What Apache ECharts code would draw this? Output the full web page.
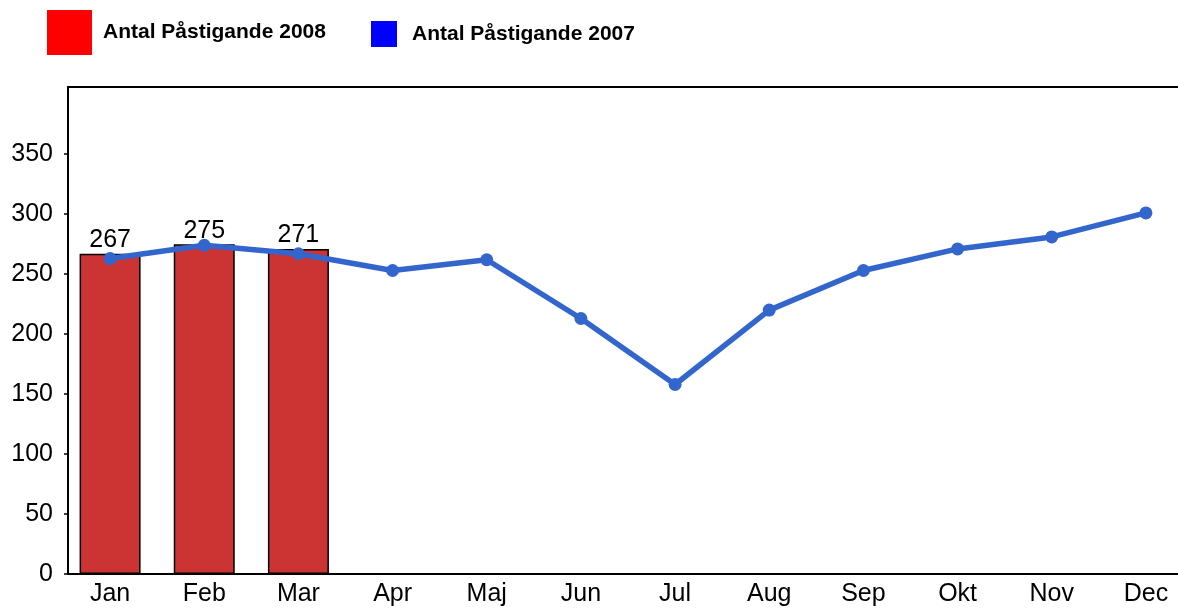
<!DOCTYPE html>
<html>
<head>
<meta charset="utf-8">
<script src="https://cdn.jsdelivr.net/npm/echarts@6/dist/echarts.min.js"></script>
<style>
  html, body { margin: 0; padding: 0; background: #fff; }
  #chart { width: 1178px; height: 609px; }
</style>
</head>
<body>
<div id="chart"></div>
<script>
const months = ['Jan', 'Feb', 'Mar', 'Apr', 'Maj', 'Jun', 'Jul', 'Aug', 'Sep', 'Okt', 'Nov', 'Dec'];
const passengers2008 = [267, 275, 271];
const passengers2007 = [263, 274, 267, 253, 262, 213, 158, 220, 253, 271, 281, 301];
const yTicks = [0, 50, 100, 150, 200, 250, 300, 350];
const yMax = 406;
const yStep = 50;

const FONT = '"Liberation Sans", Arial, sans-serif';

const chart = echarts.init(document.getElementById('chart'), null, { renderer: 'canvas' });

chart.setOption({
  animation: false,
  backgroundColor: '#fff',
  textStyle: { fontFamily: FONT },
  legend: [
    {
      left: 42, top: 5,
      itemWidth: 45, itemHeight: 45,
      icon: 'rect',
      selectedMode: false,
      textStyle: { fontFamily: FONT, fontSize: 21, fontWeight: 'bold', color: '#000', padding: [0, 0, 0, 6] },
      data: [{ name: 'Antal Påstigande 2008', itemStyle: { color: '#ff0000', borderWidth: 0 } }],
    },
    {
      left: 366, top: 16,
      itemWidth: 26, itemHeight: 26,
      icon: 'rect',
      selectedMode: false,
      textStyle: { fontFamily: FONT, fontSize: 21, fontWeight: 'bold', color: '#000', padding: [0, 0, 0, 10] },
      data: [{ name: 'Antal Påstigande 2007', itemStyle: { color: '#0000ff', borderWidth: 0 } }],
    },
  ],
  grid: [
    // data grid, bands run a little past the visible frame
    { left: 63, width: 1130, top: 87, bottom: 35, outerBoundsMode: 'none', containLabel: false },
    // frame grid
    { left: 68, right: 0, top: 87, bottom: 35, outerBoundsMode: 'none', containLabel: false },
  ],
  xAxis: [
    {
      gridIndex: 0,
      type: 'category',
      data: months,
      axisLine: { show: false },
      axisTick: { show: false },
      axisLabel: { fontFamily: FONT, fontSize: 25, color: '#000', margin: 8 },
      splitLine: { show: false },
    },
    {
      gridIndex: 1,
      type: 'category',
      data: months,
      position: 'bottom',
      axisLine: { lineStyle: { color: '#000', width: 2 } },
      axisTick: { show: false },
      axisLabel: { show: false },
    },
    {
      gridIndex: 1,
      type: 'category',
      data: months,
      position: 'top',
      axisLine: { lineStyle: { color: '#000', width: 2 } },
      axisTick: { show: false },
      axisLabel: { show: false },
    },
  ],
  yAxis: [
    {
      gridIndex: 0,
      type: 'value',
      min: 0, max: yMax, interval: yStep,
      show: false,
      splitLine: { show: false },
    },
    {
      gridIndex: 1,
      type: 'value',
      min: 0, max: yMax, interval: yStep,
      axisLine: { show: true, lineStyle: { color: '#000', width: 2 } },
      axisTick: { show: true, length: 4, customValues: yTicks, lineStyle: { color: '#000', width: 1.5 } },
      splitLine: { show: false },
      axisLabel: {
        fontFamily: FONT, fontSize: 25, color: '#000', margin: 15,
        customValues: yTicks,
      },
    },
  ],
  series: [
    {
      name: 'Antal Påstigande 2008',
      type: 'bar',
      xAxisIndex: 0, yAxisIndex: 0,
      data: passengers2008,
      barWidth: 61,
      itemStyle: { color: '#cc3333', borderColor: '#000', borderWidth: 1.5 },
      label: {
        show: true, position: 'top', distance: 1,
        fontFamily: FONT, fontSize: 25, color: '#000',
      },
      z: 2,
    },
    {
      name: 'Antal Påstigande 2007',
      type: 'line',
      xAxisIndex: 0, yAxisIndex: 0,
      data: passengers2007,
      symbol: 'circle',
      symbolSize: 13,
      lineStyle: { color: '#3366cc', width: 5.5 },
      itemStyle: { color: '#3366cc' },
      z: 3,
    },
  ],
});
</script>
</body>
</html>
